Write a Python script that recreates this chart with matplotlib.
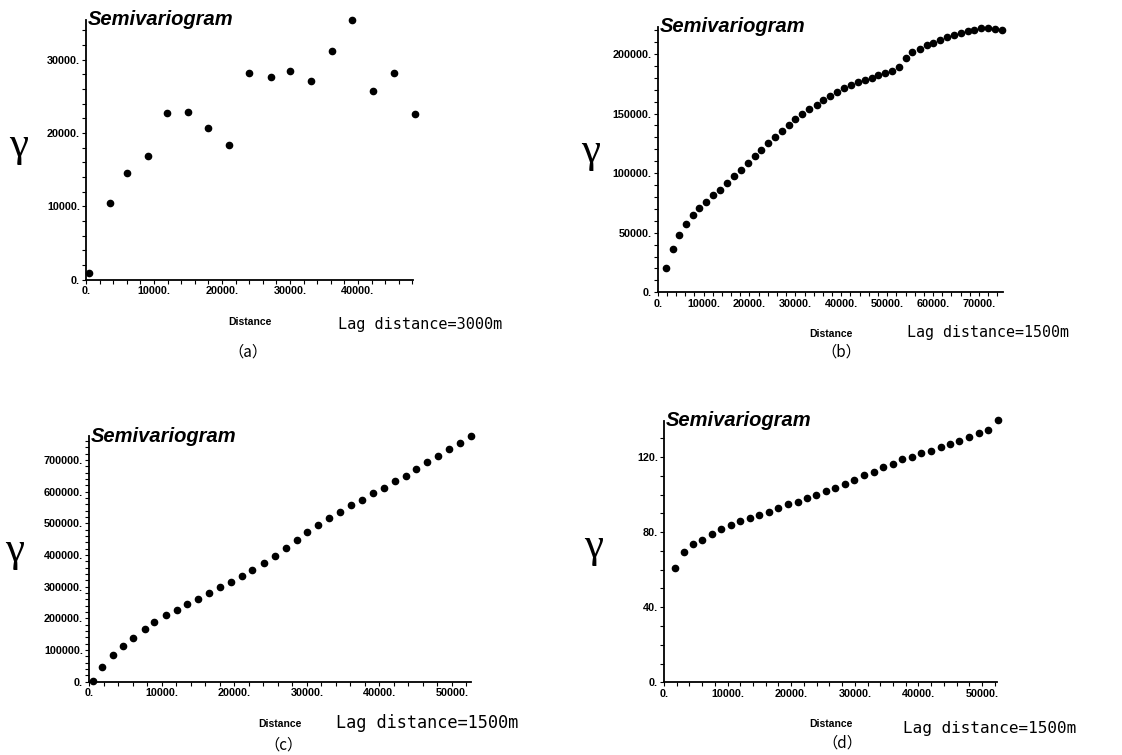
# Semivariograms for four datasets (a)-(d)
import matplotlib
matplotlib.use('Agg')
import matplotlib.pyplot as plt
from matplotlib.ticker import MultipleLocator, FuncFormatter

# (a) lag distance 3000 m
xa = [500, 3550, 6100, 9060, 11970, 14980, 17980, 21030, 23940, 27140,
      30050, 33150, 36160, 39160, 42170, 45270, 48370]
ya = [900, 10400, 14500, 16800, 22700, 22850, 20700, 18370, 28140, 27600,
      28500, 27100, 31180, 35380, 25660, 28140, 22620]

# (b) lag distance 1500 m
xb = [1800, 3300, 4700, 6100, 7700, 9100, 10600, 12100, 13600, 15100,
      16600, 18100, 19600, 21100, 22500, 24000, 25500, 27000, 28500, 30000,
      31500, 33000, 34600, 36100, 37500, 39000, 40600, 42100, 43600, 45100,
      46600, 48100, 49600, 51000, 52600, 54100, 55500, 57100, 58600, 60000,
      61600, 63100, 64500, 66100, 67600, 69000, 70500, 72000, 73600, 75100]
yb = [20100, 36600, 48100, 57100, 64600, 70500, 76100, 81400, 86200, 91800,
      97600, 102900, 108800, 114400, 119400, 125000, 130600, 135700, 140700, 145500,
      149700, 153600, 157500, 161400, 164500, 168400, 171500, 174300, 176200, 178500,
      180100, 182100, 183800, 186000, 188800, 196600, 201400, 204500, 207800, 209500,
      211700, 214000, 216200, 217600, 219300, 220400, 221800, 221500, 221300, 220400]

# (c) lag distance 1500 m
xc = [460, 1790, 3220, 4600, 6020, 7630, 8970, 10530, 12050, 13520,
      15030, 16550, 18020, 19590, 21100, 22480, 24050, 25560, 27080, 28600,
      30070, 31590, 33100, 34570, 36090, 37610, 39130, 40600, 42160, 43630,
      45060, 46620, 48140, 49660, 51170, 52640]
yc = [3200, 47400, 83200, 112600, 139000, 166300, 188400, 210500, 226300, 246300,
      262100, 281100, 297900, 315800, 333700, 353700, 374700, 395800, 421100, 447400,
      471600, 493700, 515800, 535800, 556800, 574700, 594700, 612600, 633700, 650500,
      672600, 692600, 712600, 733700, 753700, 776800]

# (d) lag distance 1500 m
xd = [1730, 3200, 4560, 6030, 7600, 8910, 10480, 12000, 13470, 14990,
      16510, 17980, 19550, 21020, 22430, 23950, 25470, 26940, 28460, 29930,
      31500, 32970, 34430, 35950, 37420, 38940, 40460, 41980, 43500, 44970,
      46440, 47960, 49480, 51000, 52460]
yd = [61.1, 69.6, 73.5, 76.0, 79.2, 81.7, 84.0, 85.9, 87.7, 89.3,
      90.9, 92.9, 94.8, 96.2, 98.4, 99.8, 101.7, 103.5, 105.8, 107.9,
      110.3, 112.2, 114.5, 116.5, 119.0, 119.8, 122.3, 123.2, 125.5, 126.8,
      128.5, 130.7, 132.6, 134.7, 139.6]

W, H = 1122, 755
fig = plt.figure(figsize=(W / 100, H / 100), dpi=100)

def px(x0, y0, x1, y1):
    # pixel box -> figure fraction [left, bottom, width, height]
    return [x0 / W, 1 - y1 / H, (x1 - x0) / W, (y1 - y0) / H]

panels = [
    # data, box, xlim, ylim, y major, y minor, gamma pos, lag text, lag pos, lag size, tag, tag pos
    (xa, ya, px(86, 20, 413, 279.5), 48100, 35400, 10000, 2000, (19, 146),
     'Lag distance=3000m', (420, 325), 11, '（a）', (248, 352)),
    (xb, yb, px(657.7, 26.7, 1003.3, 292.3), 75300, 222900, 50000, 10000, (591, 152),
     'Lag distance=1500m', (988, 333), 10.8, '（b）', (841, 352)),
    (xc, yc, px(89.3, 436, 470.7, 681.7), 52600, 775800, 100000, 20000, (15, 551),
     'Lag distance=1500m', (427, 723), 12.2, '（c）', (283, 745)),
    (xd, yd, px(664, 420.7, 997.3, 682.3), 52400, 139.4, 40, 10, (594, 547),
     'Lag distance=1500m', (990, 728), 11.5, '（d）', (842, 743)),
]

for (x, y, box, xmax, ymax, ymaj, ymin, gpos, lag, lpos, lsize, tag, tpos) in panels:
    ax = fig.add_axes(box)
    ax.plot(x, y, 'o', color='black', markersize=4.5, clip_on=False)
    ax.set_xlim(0, xmax)
    ax.set_ylim(0, ymax)
    ax.spines['top'].set_visible(False)
    ax.spines['right'].set_visible(False)
    for s in ['left', 'bottom']:
        ax.spines[s].set_linewidth(1.3)
    ax.xaxis.set_major_locator(MultipleLocator(10000))
    ax.xaxis.set_minor_locator(MultipleLocator(2000))
    ax.yaxis.set_major_locator(MultipleLocator(ymaj))
    ax.yaxis.set_minor_locator(MultipleLocator(ymin))
    fmt = FuncFormatter(lambda v, p: f'{v:.0f}.')
    ax.xaxis.set_major_formatter(fmt)
    ax.yaxis.set_major_formatter(fmt)
    ax.tick_params(which='both', direction='out', length=3, width=0.8, pad=1.5)
    for lab in ax.get_xticklabels() + ax.get_yticklabels():
        lab.set_fontsize(7.8)
        lab.set_fontweight('bold')
        lab.set_family('Liberation Sans')
    ax.set_xlabel('Distance', fontsize=7.5, fontweight='bold', family='Liberation Sans', labelpad=15)
    ax.text(0.005, 1.0, 'Semivariogram', transform=ax.transAxes, fontsize=14.5,
            fontweight='bold', style='italic', family='Liberation Sans', va='center', ha='left')
    fig.text(gpos[0] / W, 1 - gpos[1] / H, 'γ', fontsize=31, family='Liberation Serif',
             ha='center', va='center')
    fig.text(lpos[0] / W, 1 - lpos[1] / H, lag, fontsize=lsize, family='DejaVu Sans Mono',
             ha='center', va='center')
    fig.text(tpos[0] / W, 1 - tpos[1] / H, tag, fontsize=11,
             family=['Noto Sans CJK SC', 'DejaVu Sans'], ha='center', va='center')

fig.savefig('out.png', dpi=100)
